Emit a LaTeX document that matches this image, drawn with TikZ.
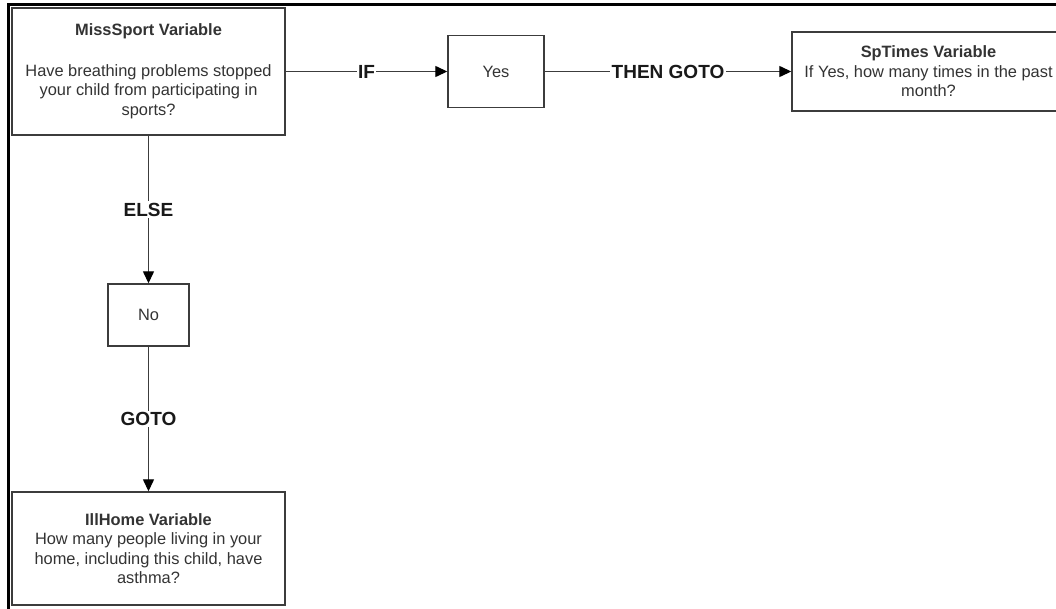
\documentclass[tikz,border=0pt]{standalone}
\usepackage{fontspec}
\setmainfont{Liberation Sans}
\usetikzlibrary{arrows.meta}
\definecolor{boxline}{HTML}{3C3C3C}
\definecolor{boxtext}{HTML}{333333}
\begin{document}
\begin{tikzpicture}[x=1pt,y=-1pt,
  qbox/.style={draw=boxline, line width=1.4pt, text=boxtext, align=center,
    font=\fontsize{16.4}{19.5}\selectfont, inner sep=0pt},
  lbl/.style={fill=white, font=\fontsize{19}{22}\selectfont\bfseries, inner sep=1.5pt, text=black!90},
  conn/.style={draw=boxline, line width=1.3pt, -{Triangle[length=12pt,width=11pt,color=black]}}
]
\useasboundingbox (0,0) rectangle (1056,608);
\clip (0,0) rectangle (1056,608);
\fill[white] (0,0) rectangle (1056,608);
% outer frame
\draw[line width=3pt, black] (8.5,610) -- (8.5,4.5) -- (1060,4.5);
% boxes
\node[qbox, minimum width=273pt, minimum height=127pt] (miss) at (148.5,71.5)
  {\textbf{MissSport Variable}\\[21pt] Have breathing problems stopped\\ your child from participating in\\ sports?};
\node[qbox, minimum width=96pt, minimum height=72pt] (yes) at (496,71.5) {Yes};
\node[qbox, minimum width=273pt, minimum height=79pt] (sp) at (928.5,71.5)
  {\textbf{SpTimes Variable}\\ If Yes, how many times in the past\\ month?};
\node[qbox, minimum width=81pt, minimum height=62pt] (no) at (148.5,315) {No};
\node[qbox, minimum width=273pt, minimum height=113pt] (ill) at (148.5,548.5)
  {\textbf{IllHome Variable}\\ How many people living in your\\ home, including this child, have\\ asthma?};
% connectors
\draw[conn] (miss.east) -- (yes.west);
\draw[conn] (yes.east) -- (sp.west);
\draw[conn] (miss.south) -- (no.north);
\draw[conn] (no.south) -- (ill.north);
% connector labels, drawn on top
\path (miss.east) -- node[lbl] {IF} (yes.west);
\path (yes.east) -- node[lbl] {THEN GOTO} (sp.west);
\path (miss.south) -- node[lbl] {ELSE} (no.north);
\path (no.south) -- node[lbl] {GOTO} (ill.north);
\end{tikzpicture}
\end{document}
